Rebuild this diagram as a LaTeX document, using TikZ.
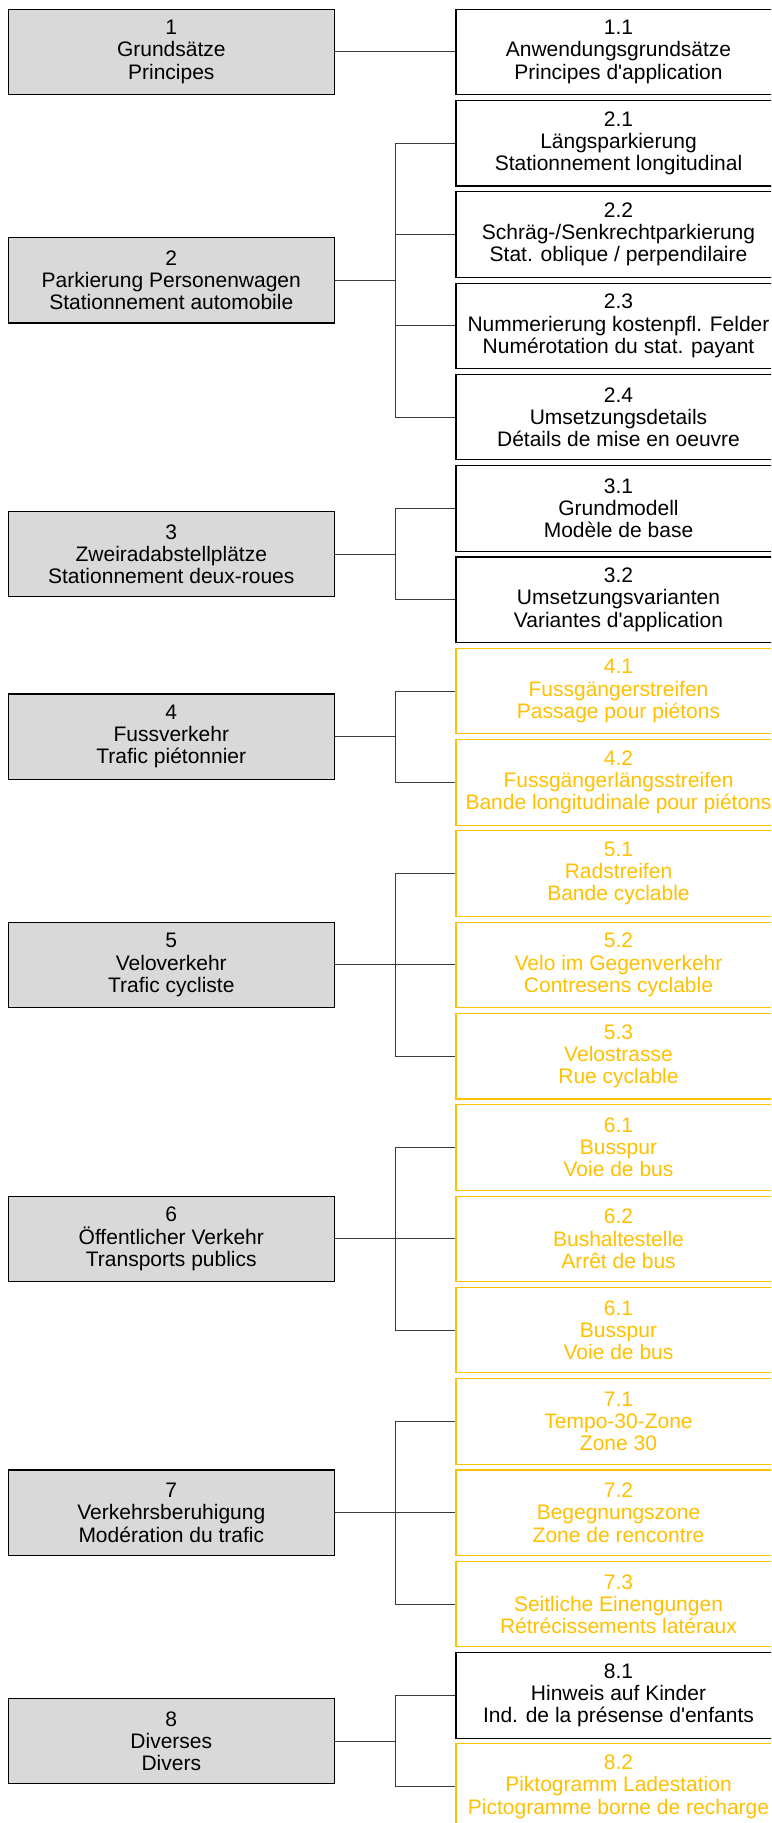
\documentclass[tikz,border=0pt]{standalone}
\usepackage{fontspec}
\setmainfont{Liberation Sans}[Ligatures=TeXOff]
\definecolor{gold}{HTML}{FFC000}
\definecolor{boxgray}{HTML}{D9D9D9}
\definecolor{linegray}{HTML}{3A3A3A}
\begin{document}
\begin{tikzpicture}[x=1pt,y=-1pt,
  every node/.style={font=\fontsize{21pt}{22.2pt}\selectfont, align=center, inner sep=0pt},
  rbox/.style={draw=black, line width=1.1pt, minimum width=325pt, minimum height=85.5pt},
  rgold/.style={rbox, draw=gold, text=gold},
  lbox/.style={draw=black, line width=1.1pt, fill=boxgray, minimum width=326pt, minimum height=85.5pt},
  conn/.style={draw=linegray, line width=1pt}]
\useasboundingbox (0,0) rectangle (771,1823);
\clip (0,0) rectangle (771,1823);
\fill[white] (0,0) rectangle (771,1823);
% right column
\node[rbox]  (r11) at (618.5,51.95)   {1.1\\Anwendungsgrundsätze\\Principes d'application};
\node[rbox]  (r21) at (618.5,143.25)  {2.1\\Längsparkierung\\Stationnement longitudinal};
\node[rbox]  (r22) at (618.5,234.55)  {2.2\\Schräg-/Senkrechtparkierung\\Stat. oblique / perpendilaire};
\node[rbox]  (r23) at (618.5,325.85)  {2.3\\Nummerierung kostenpfl. Felder\\Numérotation du stat. payant};
\node[rbox]  (r24) at (618.5,417.15)  {2.4\\Umsetzungsdetails\\Détails de mise en oeuvre};
\node[rbox]  (r31) at (618.5,508.45)  {3.1\\Grundmodell\\Modèle de base};
\node[rbox]  (r32) at (618.5,599.75)  {3.2\\Umsetzungsvarianten\\Variantes d'application};
\node[rgold] (r41) at (618.5,691.05)  {4.1\\Fussgängerstreifen\\Passage pour piétons};
\node[rgold] (r42) at (618.5,782.35)  {4.2\\Fussgängerlängsstreifen\\Bande longitudinale pour piétons};
\node[rgold] (r51) at (618.5,873.65)  {5.1\\Radstreifen\\Bande cyclable};
\node[rgold] (r52) at (618.5,964.95)  {5.2\\Velo im Gegenverkehr\\Contresens cyclable};
\node[rgold] (r53) at (618.5,1056.25) {5.3\\Velostrasse\\Rue cyclable};
\node[rgold] (r61) at (618.5,1147.55) {6.1\\Busspur\\Voie de bus};
\node[rgold] (r62) at (618.5,1238.85) {6.2\\Bushaltestelle\\Arrêt de bus};
\node[rgold] (r63) at (618.5,1330.15) {6.1\\Busspur\\Voie de bus};
\node[rgold] (r71) at (618.5,1421.45) {7.1\\Tempo-30-Zone\\Zone 30};
\node[rgold] (r72) at (618.5,1512.75) {7.2\\Begegnungszone\\Zone de rencontre};
\node[rgold] (r73) at (618.5,1604.05) {7.3\\Seitliche Einengungen\\Rétrécissements latéraux};
\node[rbox]  (r81) at (618.5,1695.35) {8.1\\Hinweis auf Kinder\\Ind. de la présense d'enfants};
\node[rgold] (r82) at (618.5,1786.65) {8.2\\Piktogramm Ladestation\\Pictogramme borne de recharge};
% left column
\node[lbox] (l1) at (171.3,51.95)  {1\\Grundsätze\\Principes};
\node[lbox] (l2) at (171.3,280.2)  {2\\Parkierung Personenwagen\\Stationnement automobile};
\node[lbox] (l3) at (171.3,554.1)  {3\\Zweiradabstellplätze\\Stationnement deux-roues};
\node[lbox] (l4) at (171.3,736.7)  {4\\Fussverkehr\\Trafic piétonnier};
\node[lbox] (l5) at (171.3,964.95) {5\\Veloverkehr\\Trafic cycliste};
\node[lbox] (l6) at (171.3,1238.85){6\\Öffentlicher Verkehr\\Transports publics};
\node[lbox] (l7) at (171.3,1512.75){7\\Verkehrsberuhigung\\Modération du trafic};
\node[lbox] (l8) at (171.3,1741.0) {8\\Diverses\\Divers};
% junctions
\coordinate (j2) at (395,280.2);
\coordinate (j3) at (395,554.1);
\coordinate (j4) at (395,736.7);
\coordinate (j5) at (395,964.95);
\coordinate (j6) at (395,1238.85);
\coordinate (j7) at (395,1512.75);
\coordinate (j8) at (395,1741.0);
% connectors
\draw[conn] (l1.east) -- (r11.west);
\draw[conn] (l2.east) -- (j2);
\foreach \c in {r21,r22,r23,r24} \draw[conn] (\c.west) -| (j2);
\draw[conn] (l3.east) -- (j3);
\foreach \c in {r31,r32} \draw[conn] (\c.west) -| (j3);
\draw[conn] (l4.east) -- (j4);
\foreach \c in {r41,r42} \draw[conn] (\c.west) -| (j4);
\draw[conn] (l5.east) -- (j5);
\foreach \c in {r51,r52,r53} \draw[conn] (\c.west) -| (j5);
\draw[conn] (l6.east) -- (j6);
\foreach \c in {r61,r62,r63} \draw[conn] (\c.west) -| (j6);
\draw[conn] (l7.east) -- (j7);
\foreach \c in {r71,r72,r73} \draw[conn] (\c.west) -| (j7);
\draw[conn] (l8.east) -- (j8);
\foreach \c in {r81,r82} \draw[conn] (\c.west) -| (j8);
\end{tikzpicture}
\end{document}
